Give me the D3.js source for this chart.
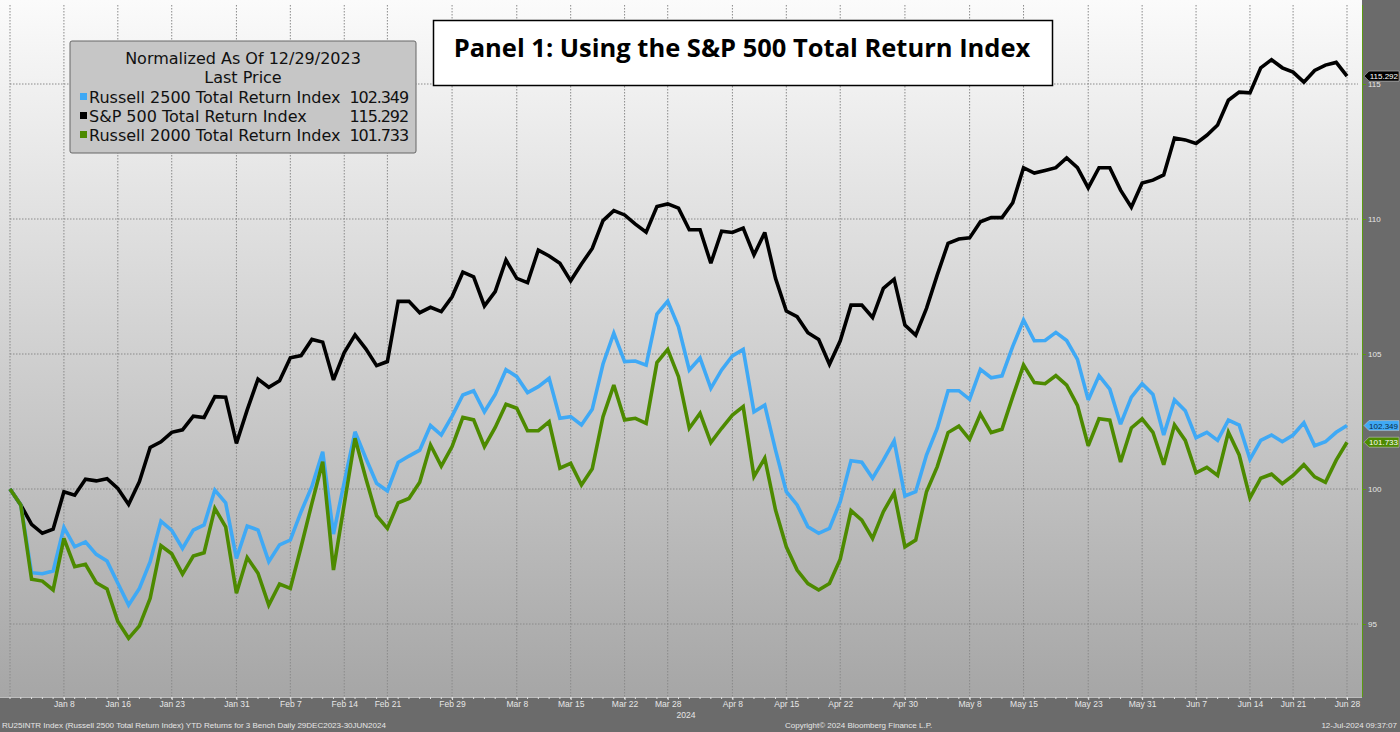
<!DOCTYPE html>
<html>
<head>
<meta charset="utf-8">
<script src="https://cdn.jsdelivr.net/npm/d3@7"></script>
<style>
  html, body { margin: 0; padding: 0; background: #ffffff; }
  svg { display: block; }
</style>
</head>
<body>
<svg id="chart" width="1400" height="732"></svg>
<script>
// ---------------- DATA ----------------
const dates = [
  "2023-12-29",
  "2024-01-02","2024-01-03","2024-01-04","2024-01-05","2024-01-08","2024-01-09","2024-01-10","2024-01-11","2024-01-12",
  "2024-01-16","2024-01-17","2024-01-18","2024-01-19","2024-01-22","2024-01-23","2024-01-24","2024-01-25","2024-01-26",
  "2024-01-29","2024-01-30","2024-01-31","2024-02-01","2024-02-02","2024-02-05","2024-02-06","2024-02-07","2024-02-08",
  "2024-02-09","2024-02-12","2024-02-13","2024-02-14","2024-02-15","2024-02-16","2024-02-20","2024-02-21","2024-02-22",
  "2024-02-23","2024-02-26","2024-02-27","2024-02-28","2024-02-29","2024-03-01","2024-03-04","2024-03-05","2024-03-06",
  "2024-03-07","2024-03-08","2024-03-11","2024-03-12","2024-03-13","2024-03-14","2024-03-15","2024-03-18","2024-03-19",
  "2024-03-20","2024-03-21","2024-03-22","2024-03-25","2024-03-26","2024-03-27","2024-03-28","2024-04-01","2024-04-02",
  "2024-04-03","2024-04-04","2024-04-05","2024-04-08","2024-04-09","2024-04-10","2024-04-11","2024-04-12","2024-04-15",
  "2024-04-16","2024-04-17","2024-04-18","2024-04-19","2024-04-22","2024-04-23","2024-04-24","2024-04-25","2024-04-26",
  "2024-04-29","2024-04-30","2024-05-01","2024-05-02","2024-05-03","2024-05-06","2024-05-07","2024-05-08","2024-05-09",
  "2024-05-10","2024-05-13","2024-05-14","2024-05-15","2024-05-16","2024-05-17","2024-05-20","2024-05-21","2024-05-22",
  "2024-05-23","2024-05-24","2024-05-28","2024-05-29","2024-05-30","2024-05-31","2024-06-03","2024-06-04","2024-06-05",
  "2024-06-06","2024-06-07","2024-06-10","2024-06-11","2024-06-12","2024-06-13","2024-06-14","2024-06-17","2024-06-18",
  "2024-06-20","2024-06-21","2024-06-24","2024-06-25","2024-06-26","2024-06-27","2024-06-28"
];

const spx = [
  100.00, 99.41, 98.69, 98.36, 98.51, 99.90, 99.77,100.36,100.30,100.38,
  100.02, 99.43,100.27,101.54,101.75,102.10,102.19,102.70,102.65,103.42,
  103.40,101.69,102.93,104.07,103.77,104.01,104.86,104.94,105.54,105.44,
  104.04,105.05,105.71,105.19,104.57,104.72,106.95,106.95,106.53,106.73,
  106.57,107.12,108.03,107.86,106.78,107.31,108.48,107.80,107.64,108.85,
  108.63,108.36,107.71,108.33,108.91,109.94,110.31,110.15,109.81,109.51,
  110.46,110.56,110.40,109.60,109.60,108.36,109.55,109.50,109.66,108.67,
  109.50,107.80,106.59,106.38,105.79,105.54,104.62,105.49,106.81,106.81,
  106.35,107.43,107.77,106.07,105.70,106.69,107.93,109.10,109.26,109.30,
  109.90,110.05,110.05,110.60,111.90,111.70,111.80,111.90,112.26,111.90,
  111.15,111.90,111.90,111.07,110.44,111.33,111.44,111.63,113.00,112.93,
  112.80,113.10,113.48,114.40,114.70,114.67,115.60,115.90,115.60,115.44,
  115.07,115.50,115.70,115.80,115.292
];

const r2500 = [
  100.00, 99.41, 96.90, 96.86, 96.96, 98.58, 97.86, 98.04, 97.58, 97.33,
   96.51, 95.70, 96.32, 97.31, 98.81, 98.47, 97.80, 98.48, 98.67, 99.96,
   99.49, 97.43, 98.63, 98.48, 97.31, 97.93, 98.11, 99.16,100.09,101.38,
   98.33,100.25,102.12,101.14,100.21, 99.93,100.98,101.22,101.44,102.35,
  102.00,102.70,103.48,103.64,102.86,103.50,104.42,104.16,103.57,103.79,
  104.10,102.62,102.68,102.37,102.95,104.63,105.77,104.72,104.74,104.59,
  106.48,106.96,106.01,104.41,104.85,103.73,104.41,104.93,105.17,102.86,
  103.11,101.44, 99.90, 99.41, 98.60, 98.36, 98.54, 99.53,101.05,100.99,
  100.40,101.07,101.78, 99.74, 99.90,101.26,102.25,103.64,103.64,103.32,
  104.43,104.12,104.19,105.28,106.26,105.49,105.50,105.80,105.50,104.80,
  103.30,104.20,103.70,102.40,103.40,103.90,103.50,102.00,103.30,102.90,
  101.90,102.10,101.80,102.55,102.37,101.10,101.80,102.00,101.75,102.00,
  102.45,101.60,101.75,102.10,102.349
];

const r2000 = [
  100.00, 99.41, 96.66, 96.59, 96.26, 98.17, 97.12, 97.21, 96.53, 96.30,
   95.09, 94.47, 94.93, 95.95, 97.90, 97.60, 96.85, 97.52, 97.64, 99.28,
   98.60, 96.14, 97.46, 96.88, 95.70, 96.48, 96.32, 97.86, 99.47,101.01,
   97.00, 99.44,101.88,100.40, 99.01, 98.54, 99.49, 99.65,100.25,101.63,
  100.85,101.57,102.65,102.56,101.57,102.28,103.14,102.99,102.16,102.16,
  102.49,100.77,100.95,100.15,100.75,102.68,103.85,102.56,102.62,102.43,
  104.68,105.17,104.16,102.25,102.80,101.72,102.25,102.74,103.05,100.46,
  101.14, 99.22, 97.86, 97.00, 96.50, 96.26, 96.50, 97.40, 99.20, 98.85,
   98.17, 99.16, 99.86, 97.86, 98.11, 99.90,100.83,102.09,102.33,101.84,
  102.78,102.09,102.21,103.42,104.59,103.94,103.90,104.20,103.85,103.10,
  101.60,102.60,102.55,101.00,102.26,102.60,102.10,100.90,102.37,101.80,
  100.60,100.80,100.50,102.10,101.26, 99.67,100.40,100.55,100.20,100.50,
  100.90,100.45,100.25,101.07,101.733
];

const seriesNames  = ["Russell 2500 Total Return Index", "S&P 500 Total Return Index", "Russell 2000 Total Return Index"];
const seriesLast   = ["102.349", "115.292", "101.733"];
const tickDates    = ["2024-01-08","2024-01-16","2024-01-23","2024-01-31","2024-02-07","2024-02-14","2024-02-21","2024-02-29",
                      "2024-03-08","2024-03-15","2024-03-22","2024-03-28","2024-04-08","2024-04-15","2024-04-22","2024-04-30",
                      "2024-05-08","2024-05-15","2024-05-23","2024-05-31","2024-06-07","2024-06-14","2024-06-21","2024-06-28"];
const tickLabels   = ["Jan 8","Jan 16","Jan 23","Jan 31","Feb 7","Feb 14","Feb 21","Feb 29",
                      "Mar 8","Mar 15","Mar 22","Mar 28","Apr 8","Apr 15","Apr 22","Apr 30",
                      "May 8","May 15","May 23","May 31","Jun 7","Jun 14","Jun 21","Jun 28"];
const yTicks       = [95, 100, 105, 110, 115];

// ---------------- LAYOUT ----------------
const W = 1400, H = 732;
const plot = { left: 10, right: 1362, top: 5, bottom: 697 };
const colors = ["#3fa9f5", "#000000", "#4d8a00"];
const smallFont = "Liberation Sans, Arial, sans-serif";

const svg = d3.select("#chart");
const defs = svg.append("defs");
const grad = defs.append("linearGradient").attr("id","bg").attr("x1",0).attr("y1",0).attr("x2",0).attr("y2",1);
grad.append("stop").attr("offset","0%").attr("stop-color","#fbfbfb");
grad.append("stop").attr("offset","100%").attr("stop-color","#a6a6a6");

// backgrounds
svg.append("rect").attr("x",0).attr("y",0).attr("width",W).attr("height",H).attr("fill","#6b6b6b");
svg.append("rect").attr("x",0).attr("y",0).attr("width",plot.right).attr("height",plot.bottom).attr("fill","url(#bg)");

const x = d3.scalePoint().domain(dates).range([plot.left, 1347]);
const y = d3.scaleLinear().domain([100 - (697-489)/27, 100 + (489-5)/27]).range([plot.bottom, plot.top]);

// grid
const grid = svg.append("g").attr("class","grid");
grid.selectAll("line.h").data(yTicks).join("line")
  .attr("x1", plot.left).attr("x2", plot.right - 4)
  .attr("y1", d => y(d)).attr("y2", d => y(d))
  .attr("stroke","#8a8a8a").attr("stroke-width",1).attr("stroke-dasharray","1.5,1.5");
grid.selectAll("line.v").data([dates[0]].concat(tickDates)).join("line")
  .attr("x1", d => x(d)).attr("x2", d => x(d))
  .attr("y1", plot.top).attr("y2", plot.bottom)
  .attr("stroke","#8a8a8a").attr("stroke-width",1).attr("stroke-dasharray","1.5,1.5");

// lines
const allSeries = [r2500, spx, r2000];
const line = d3.line().x((d,i) => x(dates[i])).y(d => y(d));
const drawOrder = [1, 0, 2];
drawOrder.forEach(k => {
  svg.append("path").datum(allSeries[k])
    .attr("d", line).attr("fill","none")
    .attr("stroke", colors[k]).attr("stroke-width", 3.6)
    .attr("stroke-linejoin","miter").attr("stroke-miterlimit", 3);
});

// bottom axis
const xAxis = d3.axisBottom(x).tickValues(tickDates).tickFormat((d,i) => tickLabels[i]).tickSize(3).tickPadding(1);
const gx = svg.append("g").attr("transform", `translate(0,${plot.bottom})`).call(xAxis);
gx.select(".domain").attr("stroke","#bdbdbd").attr("d", `M0,0.5H${plot.right}`);
gx.selectAll(".tick line").attr("stroke","#e0e0e0");
gx.selectAll(".tick text").attr("fill","#e6e6e6").style("font-family",smallFont).style("font-size","8.5px");
// minor ticks per trading day
svg.append("g").selectAll("line").data(dates).join("line")
  .attr("x1", d => x(d)).attr("x2", d => x(d))
  .attr("y1", plot.bottom).attr("y2", plot.bottom + 2)
  .attr("stroke","#e0e0e0").attr("stroke-width",1);

svg.append("text").attr("x", 686).attr("y", 718).attr("text-anchor","middle")
  .attr("fill","#e6e6e6").style("font-family",smallFont).style("font-size","8.5px").text("2024");

// footer
const foot = svg.append("g").style("font-family",smallFont).style("font-size","8px").attr("fill","#e6e6e6");
foot.append("text").attr("x", 2).attr("y", 728).text("RU25INTR Index (Russell 2500 Total Return Index) YTD Returns for 3 Bench  Daily 29DEC2023-30JUN2024");
foot.append("text").attr("x", 785).attr("y", 728).text("Copyright\u00A9 2024 Bloomberg Finance L.P.");
foot.append("text").attr("x", 1397).attr("y", 728).attr("text-anchor","end").text("12-Jul-2024 09:37:07");

// right axis
const yAxis = d3.axisRight(y).tickValues(yTicks).tickSize(4).tickPadding(2).tickFormat(d3.format("d"));
const gy = svg.append("g").attr("transform", `translate(${plot.right},0)`).call(yAxis);
gy.select(".domain").attr("stroke","#5a9a10").attr("d", `M0.5,${plot.top}V${plot.bottom}`);
gy.selectAll(".tick line").attr("stroke","#5a9a10");
gy.selectAll(".tick text").attr("fill","#e6e6e6").style("font-family",smallFont).style("font-size","8px");

// last value tags
const tagData = [
  { v: +seriesLast[1], label: seriesLast[1], fill: "#000000", text: "#ffffff" },
  { v: +seriesLast[0], label: seriesLast[0], fill: "#3fa9f5", text: "#0b2a45" },
  { v: +seriesLast[2], label: seriesLast[2], fill: "#4d8a00", text: "#ffffff" }
];
const tags = svg.append("g");
tagData.forEach(t => {
  const cy = y(t.v);
  const x0 = plot.right + 2, x1 = W - 1;
  tags.append("path")
    .attr("d", `M${x0},${cy} L${x0+5},${cy-5} L${x1},${cy-5} L${x1},${cy+5} L${x0+5},${cy+5} Z`)
    .attr("fill", t.fill).attr("stroke","#d0d0d0").attr("stroke-width",0.5);
  tags.append("text").attr("x", x1 - 1).attr("y", cy + 3).attr("text-anchor","end")
    .attr("fill", t.text).style("font-family",smallFont).style("font-size","8px").text(t.label);
});

// legend box
const lg = svg.append("g");
lg.append("rect").attr("x",70).attr("y",41).attr("width",346).attr("height",112).attr("rx",2)
  .attr("fill","#c6c6c6").attr("stroke","#666").attr("stroke-width",1);
const lf = "DejaVu Sans, Verdana, sans-serif";
const lfs = "16px";
lg.append("text").attr("x",243).attr("y",64).attr("text-anchor","middle").style("font-family",lf).style("font-size",lfs).attr("fill","#111").text("Normalized As Of 12/29/2023");
lg.append("text").attr("x",243).attr("y",83).attr("text-anchor","middle").style("font-family",lf).style("font-size",lfs).attr("fill","#111").text("Last Price");
seriesNames.forEach((nm, i) => {
  const yy = 103 + i * 19;
  lg.append("rect").attr("x",80).attr("y",yy-10).attr("width",7).attr("height",7).attr("fill",colors[i]);
  lg.append("text").attr("x",89).attr("y",yy).style("font-family",lf).style("font-size",lfs).attr("fill","#111").text(nm);
  lg.append("text").attr("x",408).attr("y",yy).attr("text-anchor","end").style("font-family",lf).style("font-size",lfs)
    .style("letter-spacing","-1.1px").attr("fill","#111").text(seriesLast[i]);
});

// title box
const tb = svg.append("g");
tb.append("rect").attr("x",433.5).attr("y",20.5).attr("width",619).attr("height",65).attr("fill","#ffffff").attr("stroke","#000").attr("stroke-width",1.5);
tb.append("text").attr("x",742).attr("y",57).attr("text-anchor","middle")
  .style("font-family","'Open Sans', Lato, sans-serif").style("font-weight","bold").style("font-size","25.5px").attr("fill","#000")
  .text("Panel 1: Using the S&P 500 Total Return Index");
</script>
</body>
</html>
